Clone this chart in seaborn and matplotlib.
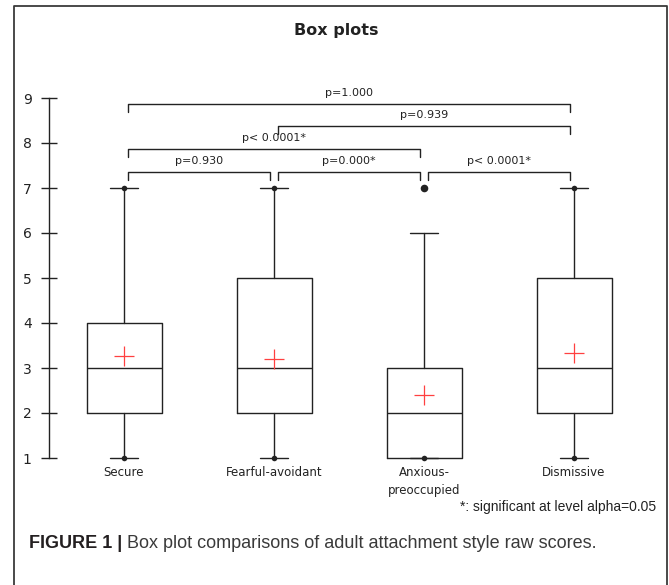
import matplotlib
matplotlib.use("Agg")
import matplotlib.pyplot as plt
from matplotlib.lines import Line2D
import pandas as pd
import seaborn as sns

# data
groups = ["Secure", "Fearful-avoidant", "Anxious-\npreoccupied", "Dismissive"]
q1 = [2, 2, 1, 2]
medians = [3, 3, 2, 3]
q3 = [4, 5, 3, 5]
whisker_low = [1, 1, 1, 1]
whisker_high = [7, 7, 6, 7]
means = [3.27, 3.20, 2.40, 3.33]
minimums = [1, 1, 1, 1]
maximums = [7, 7, 7, 7]
outliers = [[], [], [7], []]

# pairwise comparisons
pair_left = [0, 1, 2, 0, 1, 0]
pair_right = [1, 2, 3, 2, 3, 3]
pair_level = [0, 0, 0, 1, 2, 3]
p_labels = ["p=0.930", "p=0.000*", "p< 0.0001*", "p< 0.0001*", "p=0.939", "p=1.000"]

W, H = 669, 585
sns.set_theme(style="white")
plt.rcParams["font.family"] = ["DejaVu Sans"]

fig = plt.figure(figsize=(W / 100, H / 100), dpi=100)
ax = fig.add_axes([49 / W, 1 - 458 / H, 600 / W, 360 / H])
ax.patch.set_alpha(0)

ink = "#222222"
pos = list(range(len(groups)))

# boxes from the summary stats
stats = [dict(med=m, q1=a, q3=b, whislo=lo, whishi=hi, fliers=[])
         for m, a, b, lo, hi in zip(medians, q1, q3, whisker_low, whisker_high)]
line = dict(color=ink, linewidth=1.0)
parts = ax.bxp(stats, positions=pos, widths=0.5, capwidths=0.19, showfliers=False,
               boxprops=line, whiskerprops=line, capprops=line, medianprops=line,
               manage_ticks=False)
for arts in parts.values():
    for a in arts:
        a.set_clip_on(False)

# means (red +), min / max dots and outliers
df_mean = pd.DataFrame({"pos": pos, "mean": means})
sns.scatterplot(data=df_mean, x="pos", y="mean", marker="+", s=190,
                color="#ff4040", linewidth=0.9, ax=ax, zorder=4, clip_on=False)

df_ext = pd.DataFrame({"pos": pos * 2, "value": minimums + maximums})
sns.scatterplot(data=df_ext, x="pos", y="value", s=16, color=ink,
                linewidth=0, ax=ax, zorder=5, clip_on=False)

out_pos = [i for i, o in enumerate(outliers) for _ in o]
out_val = [v for o in outliers for v in o]
sns.scatterplot(x=out_pos, y=out_val, s=30, color=ink, linewidth=0,
                ax=ax, zorder=5, clip_on=False)

# significance brackets
base, step, leg, inset = 7.36, 0.505, 0.18, 0.025
for i, j, lvl, lab in zip(pair_left, pair_right, pair_level, p_labels):
    y = base + step * lvl
    x0, x1 = i + inset, j - inset
    ax.plot([x0, x0, x1, x1], [y - leg, y, y, y - leg], color=ink, lw=1.0,
            clip_on=False)
    ax.annotate(lab, xy=((x0 + x1) / 2, y), xytext=(0, 8),
                textcoords="offset points", ha="center", va="center",
                fontsize=8, color=ink)

ax.set_xlim(-0.5, 3.5)
ax.set_ylim(1, 9)
ax.set_yticks(range(1, 10))
ax.set_xticks(pos)
ax.set_xticklabels(groups, fontsize=8.5, linespacing=1.45, color=ink)
ax.tick_params(axis="x", length=0, pad=6)
ax.tick_params(axis="y", direction="inout", length=11, width=1.0, color=ink,
               labelsize=10, labelcolor=ink, pad=7, left=True)
for s in ["top", "right", "bottom"]:
    ax.spines[s].set_visible(False)
ax.spines["left"].set_color(ink)
ax.spines["left"].set_linewidth(1.0)
ax.set_xlabel("")
ax.set_ylabel("")

# title, footnote, frame and caption
fig.text(336 / W, 1 - 30 / H, "Box plots", ha="center", va="center",
         fontsize=11.5, fontweight="bold", color=ink)
fig.text(656 / W, 1 - 507 / H, "*: significant at level alpha=0.05",
         ha="right", va="center", fontsize=10, family="Liberation Sans",
         color=ink)

frame = Line2D([14 / W, 14 / W, 667 / W, 667 / W], [0, 1 - 6 / H, 1 - 6 / H, 0],
               transform=fig.transFigure, color="#3a3a3a", lw=1.3)
fig.add_artist(frame)

cap_bold = fig.text(29 / W, 1 - 544 / H, "FIGURE 1 |", ha="left", va="center",
                    fontsize=13, fontweight="bold", family="Liberation Sans",
                    color="#231f20")
bb = cap_bold.get_window_extent(fig.canvas.get_renderer())
fig.text(bb.x1 / W, 1 - 544 / H, " Box plot comparisons of adult attachment style raw scores.",
         ha="left", va="center", fontsize=13, family="Liberation Sans",
         color="#3a3a3a")

fig.savefig("out.png", dpi=100)
